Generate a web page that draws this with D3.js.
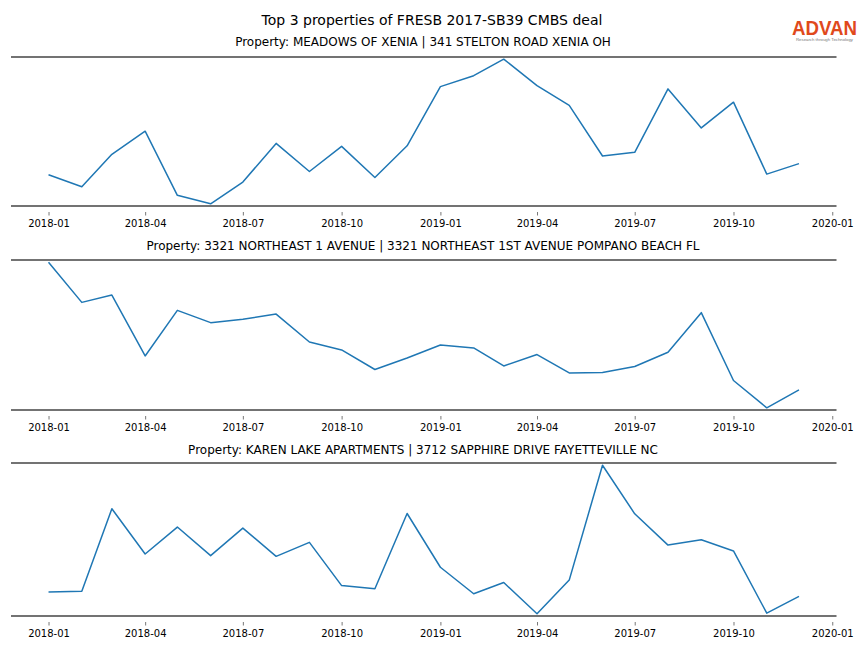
<!DOCTYPE html>
<html>
<head>
<meta charset="utf-8">
<script src="https://cdn.jsdelivr.net/npm/d3@7"></script>
<style>
  html, body { margin: 0; padding: 0; background: #fff; }
  svg { display: block; font-family: "DejaVu Sans", sans-serif; }
</style>
</head>
<body>
<svg id="chart" width="864" height="648"></svg>
<script>
// ---- data ----
const mainTitle = "Top 3 properties of FRESB 2017-SB39 CMBS deal";
const panelTitles = [
  "Property: MEADOWS OF XENIA | 341 STELTON ROAD XENIA OH",
  "Property: 3321 NORTHEAST 1 AVENUE | 3321 NORTHEAST 1ST AVENUE POMPANO BEACH FL",
  "Property: KAREN LAKE APARTMENTS | 3712 SAPPHIRE DRIVE FAYETTEVILLE NC"
];
const months = [
  "2018-01","2018-02","2018-03","2018-04","2018-05","2018-06",
  "2018-07","2018-08","2018-09","2018-10","2018-11","2018-12",
  "2019-01","2019-02","2019-03","2019-04","2019-05","2019-06",
  "2019-07","2019-08","2019-09","2019-10","2019-11","2019-12"
];
const seriesMeadows = [31, 19, 51.7, 75, 10.3, 1.7, 23.7, 62.7, 34.3, 59.7, 28.3, 60.3,
                       120, 131, 147.7, 121, 101, 50, 53.7, 117.7, 78.3, 104.3, 31.7, 42.3];
const seriesPompano = [147.3, 107, 114.3, 53.3, 99, 86.7, 90, 95.3, 67.3, 59.3, 39.7, 51.3,
                       64.3, 61.3, 43.3, 54.7, 36.3, 36.7, 42.7, 57, 96.7, 28.7, 1.3, 19.3];
const seriesKaren = [25, 25.7, 106.7, 62.3, 88.7, 60.7, 87.7, 60, 73.7, 31.3, 28.3, 102,
                     49.3, 23.3, 34.3, 3.7, 36.7, 149.3, 101.7, 71, 76.3, 65.3, 4.3, 20.7];
const tickLabels = ["2018-01","2018-04","2018-07","2018-10","2019-01","2019-04","2019-07","2019-10","2020-01"];

const allSeries = [seriesMeadows, seriesPompano, seriesKaren];

// ---- layout ----
const W = 864;
const plotLeft = 11, plotRight = 836.5;
const panels = [
  {top: 57, bottom: 206, titleY: 46},
  {top: 260, bottom: 410, titleY: 250},
  {top: 463, bottom: 616, titleY: 454}
];
const parse = d3.timeParse("%Y-%m");
const dates = months.map(parse);
const fmt = d3.timeFormat("%Y-%m");

const svg = d3.select("#chart");

// main title
svg.append("text")
  .attr("x", W / 2).attr("y", 24.5)
  .attr("text-anchor", "middle")
  .attr("font-size", 14)
  .attr("fill", "#000")
  .text(mainTitle);

// logo
const logo = svg.append("g");
logo.append("text")
  .attr("x", 824.5).attr("y", 34.5)
  .attr("text-anchor", "middle")
  .attr("font-family", "Liberation Sans, Arial, sans-serif")
  .attr("font-size", 20.5)
  .attr("font-weight", "bold")
  .attr("fill", "#e0491c")
  .attr("textLength", 65)
  .attr("lengthAdjust", "spacingAndGlyphs")
  .text("ADVAN");
logo.append("text")
  .attr("x", 824.5).attr("y", 41)
  .attr("text-anchor", "middle")
  .attr("font-family", "Liberation Sans, Arial, sans-serif")
  .attr("font-size", 4.3)
  .attr("fill", "#777")
  .text("Research through Technology");

// x scale with 5% margins like matplotlib
const dMin = dates[0], dMax = dates[dates.length - 1];
const span = dMax - dMin;
const x = d3.scaleTime()
  .domain([new Date(+dMin - 0.05 * span), new Date(+dMax + 0.05 * span)])
  .range([plotLeft, plotRight]);
const tickDates = tickLabels.map(parse);

allSeries.forEach((vals, i) => {
  const p = panels[i];
  const [lo, hi] = d3.extent(vals);
  const pad = (hi - lo) * 0.015;
  const y = d3.scaleLinear().domain([lo - pad, hi + pad]).range([p.bottom, p.top]);
  const g = svg.append("g");

  // panel title
  g.append("text")
    .attr("x", W / 2 - 9).attr("y", p.titleY)
    .attr("text-anchor", "middle")
    .attr("font-size", 12)
    .attr("fill", "#000")
    .text(panelTitles[i]);

  // spines
  g.append("line")
    .attr("x1", plotLeft).attr("x2", plotRight)
    .attr("y1", p.top).attr("y2", p.top)
    .attr("stroke", "#444").attr("stroke-width", 1.6);
  g.append("line")
    .attr("x1", plotLeft).attr("x2", plotRight)
    .attr("y1", p.bottom).attr("y2", p.bottom)
    .attr("stroke", "#444").attr("stroke-width", 1.6);

  // x axis
  const axis = d3.axisBottom(x)
    .tickValues(tickDates)
    .tickFormat(fmt)
    .tickSize(3.5)
    .tickPadding(4);
  const ax = g.append("g")
    .attr("transform", `translate(0,${p.bottom + 6})`)
    .call(axis);
  ax.select(".domain").remove();
  ax.selectAll(".tick line").attr("stroke", "#555").attr("stroke-width", 0.8);
  ax.selectAll(".tick text")
    .attr("font-family", "DejaVu Sans, sans-serif")
    .attr("font-size", 10)
    .attr("fill", "#000");

  // line
  const line = d3.line()
    .x((d, j) => x(dates[j]))
    .y(d => y(d));
  g.append("path")
    .datum(vals)
    .attr("fill", "none")
    .attr("stroke", "#1f77b4")
    .attr("stroke-width", 1.5)
    .attr("stroke-linejoin", "round")
    .attr("d", line);
});
</script>
</body>
</html>
